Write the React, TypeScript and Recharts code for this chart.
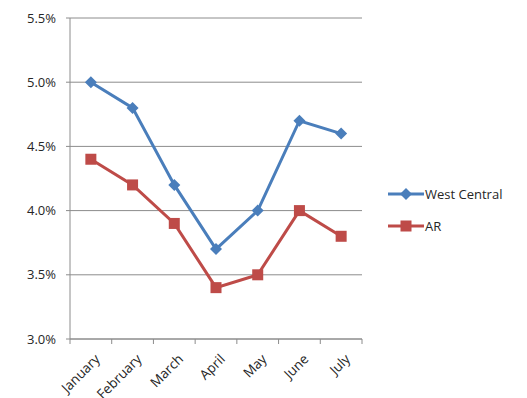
import React from "react";
import { LineChart, Line, XAxis, YAxis, CartesianGrid, Legend } from "recharts";

const months = ["January", "February", "March", "April", "May", "June", "July"];
const westCentral = [0.05, 0.048, 0.042, 0.037, 0.04, 0.047, 0.046];
const ar = [0.044, 0.042, 0.039, 0.034, 0.035, 0.04, 0.038];
const yTicks = [0.03, 0.035, 0.04, 0.045, 0.05, 0.055];
const seriesNames = ["West Central", "AR"];

const data = months.map((m, i) => ({ month: m, wc: westCentral[i], ar: ar[i] }));

const BLUE = "#4A7EBB";
const RED = "#BE4B48";
const GRID = "#8C8C8C";
const FONT = "'Open Sans', 'Liberation Sans', sans-serif";

const Diamond = (props: any) => {
  const { cx, cy, fill } = props;
  if (cx == null || cy == null) return null;
  const r = 6;
  return <path key={`d${cx}`} d={`M${cx},${cy - r}L${cx + r},${cy}L${cx},${cy + r}L${cx - r},${cy}Z`} fill={fill} />;
};

const Square = (props: any) => {
  const { cx, cy, fill } = props;
  if (cx == null || cy == null) return null;
  const s = 5.5;
  return <rect key={`s${cx}`} x={cx - s} y={cy - s} width={2 * s} height={2 * s} fill={fill} />;
};

const XTick = (props: any) => {
  const { x, y, payload, index, width, visibleTicksCount } = props;
  const band = width / visibleTicksCount;
  const top = y - 8;
  const ax = x + 2;
  const ay = top + 13;
  return (
    <g>
      <line x1={x - band / 2} y1={top} x2={x - band / 2} y2={top + 5} stroke={GRID} />
      {index === visibleTicksCount - 1 && (
        <line x1={x + band / 2} y1={top} x2={x + band / 2} y2={top + 5} stroke={GRID} />
      )}
      <text
        x={ax}
        y={ay}
        textAnchor="end"
        transform={`rotate(-45, ${ax}, ${ay})`}
        fontSize={13.5}
        fontFamily={FONT}
        fill="#262626"
        dominantBaseline="hanging"
      >
        {payload.value}
      </text>
    </g>
  );
};

const LegendContent = () => (
  <div style={{ fontFamily: FONT, fontSize: 13, color: "#262626" }}>
    {seriesNames.map((n, i) => (
      <div key={n} style={{ display: "flex", alignItems: "center", height: 32 }}>
        <svg width={36} height={14}>
          <line x1={0} y1={7} x2={36} y2={7} stroke={i === 0 ? BLUE : RED} strokeWidth={3} />
          {i === 0 ? (
            <path d="M18,1L24,7L18,13L12,7Z" fill={BLUE} />
          ) : (
            <rect x={12.5} y={1.5} width={11} height={11} fill={RED} />
          )}
        </svg>
        <span style={{ marginLeft: 1 }}>{n}</span>
      </div>
    ))}
  </div>
);

export default function App() {
  return (
    <div style={{ position: "absolute", left: 0, top: 0 }}>
      <LineChart width={527} height={398} data={data} margin={{ top: 18, right: 165, bottom: 0, left: 0 }}>
        <CartesianGrid vertical={false} stroke={GRID} />
        <XAxis
          dataKey="month"
          scale="band"
          axisLine={{ stroke: GRID }}
          tickLine={false}
          tick={<XTick />}
          height={59}
          interval={0}
        />
        <YAxis
          domain={[0.03, 0.055]}
          ticks={yTicks}
          tickFormatter={(v: number) => `${(v * 100).toFixed(1)}%`}
          axisLine={{ stroke: GRID }}
          tickLine={{ stroke: GRID }}
          tickSize={4}
          width={70}
          tick={{ fontSize: 13, fontFamily: FONT, fill: "#262626", dx: -8 }}
          allowDataOverflow
        />
        <Legend
          layout="vertical"
          align="center"
          verticalAlign="middle"
          wrapperStyle={{ left: 388, top: 178, width: 139 }}
          content={<LegendContent />}
        />
        <Line
          dataKey="wc"
          name={seriesNames[0]}
          stroke={BLUE}
          strokeWidth={3}
          dot={<Diamond fill={BLUE} />}
          isAnimationActive={false}
        />
        <Line
          dataKey="ar"
          name={seriesNames[1]}
          stroke={RED}
          strokeWidth={3}
          dot={<Square fill={RED} />}
          isAnimationActive={false}
        />
      </LineChart>
    </div>
  );
}
